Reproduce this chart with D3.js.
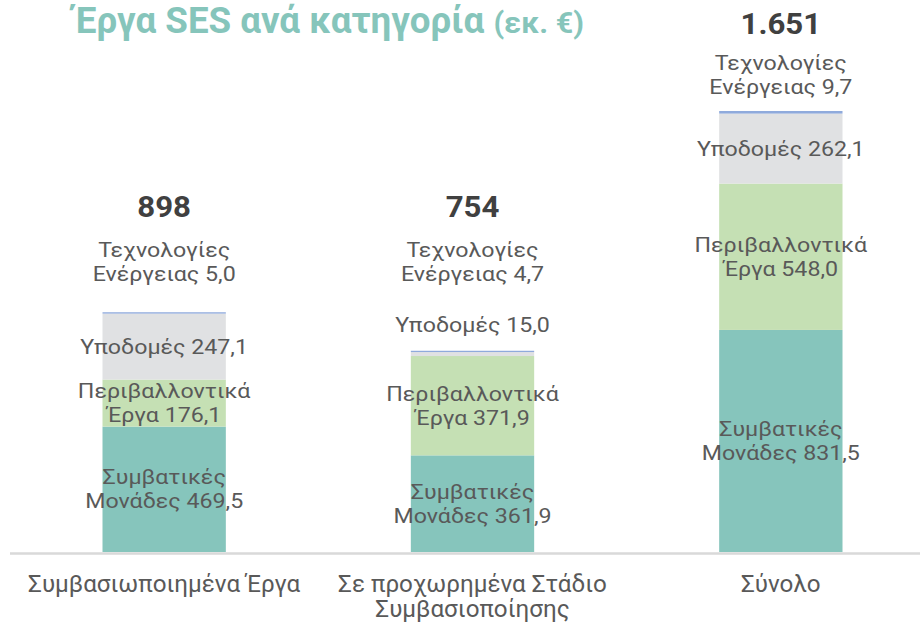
<!DOCTYPE html>
<html>
<head>
<meta charset="utf-8">
<script src="https://cdn.jsdelivr.net/npm/d3@7"></script>
<style>
  html, body { margin: 0; padding: 0; background: #ffffff; }
  svg { display: block; font-family: Roboto, "Noto Sans", sans-serif; }
</style>
</head>
<body>
<svg id="chart" width="920" height="624"></svg>
<script>
// Categories (x axis), each split into the lines shown under the axis
const categories = ["Συμβασιωποιημένα Έργα", "Σε προχωρημένα Στάδιο Συμβασιοποίησης", "Σύνολο"];
const categoryLines = [["Συμβασιωποιημένα Έργα"], ["Σε προχωρημένα Στάδιο", "Συμβασιοποίησης"], ["Σύνολο"]];

// Stacked series, bottom to top (εκ. €)
const conventional   = [469.5, 361.9, 831.5];   // Συμβατικές Μονάδες
const environmental  = [176.1, 371.9, 548.0];   // Περιβαλλοντικά Έργα
const infrastructure = [247.1, 15.0, 262.1];    // Υποδομές
const energyTech     = [5.0, 4.7, 9.7];         // Τεχνολογίες Ενέργειας

const seriesNames = [
  ["Συμβατικές", "Μονάδες"],
  ["Περιβαλλοντικά", "Έργα"],
  ["Υποδομές"],
  ["Τεχνολογίες", "Ενέργειας"]
];
const seriesColors = ["#86c5bc", "#c5e0b4", "#e0e1e3", "#8faadc"];

const titleMain = "Έργα SES ανά κατηγορία";
const titleUnit = "(εκ. €)";

// Greek number formatting: "." thousands, "," decimals
const locale = d3.formatLocale({ decimal: ",", thousands: ".", grouping: [3], currency: ["", " €"] });
const fmtValue = locale.format(".1f");
const fmtTotal = locale.format(",.0f");

const svg = d3.select("#chart");
const W = 920;

const seriesValues = [conventional, environmental, infrastructure, energyTech];
const rows = categories.map((c, i) => {
  const r = { category: c };
  seriesValues.forEach((vals, k) => r["s" + k] = vals[i]);
  return r;
});
const keys = ["s0", "s1", "s2", "s3"];
const stacked = d3.stack().keys(keys)(rows);
const totals = rows.map(r => d3.sum(keys, k => r[k]));

const x = d3.scaleBand().domain(categories).range([10, 935]).paddingInner(0.6).paddingOuter(0.3);
const y = d3.scaleLinear().domain([0, d3.max(totals)]).range([552, 111]);

// Bars
const layer = svg.append("g");
stacked.forEach((s, k) => {
  layer.selectAll(null).data(s).enter().append("rect")
    .attr("x", d => x(d.data.category))
    .attr("width", x.bandwidth())
    .attr("y", d => y(d[1]))
    .attr("height", d => Math.max(0, y(d[0]) - y(d[1])))
    .attr("fill", seriesColors[k]);
});

// Baseline
svg.append("line")
  .attr("x1", 10).attr("x2", W)
  .attr("y1", y(0) + 1.5).attr("y2", y(0) + 1.5)
  .attr("stroke", "#d9d9d9").attr("stroke-width", 2.5);

const labelColor = "#595959";
const labelSize = 20;
const labelStretch = 1.16;
const lineGap = 24;

// Multi-line centred label; text is widened horizontally around its centre
function drawLines(cx, cy, lines, opts = {}) {
  const n = lines.length;
  const sx = opts.stretch || labelStretch;
  const g = svg.append("g").attr("transform", `translate(${cx},0) scale(${sx},1)`);
  const t = g.append("text")
    .attr("text-anchor", "middle")
    .attr("fill", opts.fill || labelColor)
    .attr("font-size", opts.size || labelSize)
    .attr("font-weight", opts.weight || 400);
  lines.forEach((ln, i) => {
    t.append("tspan")
      .attr("x", 0)
      .attr("y", cy + (i - (n - 1) / 2) * lineGap)
      .attr("dominant-baseline", "central")
      .text(ln);
  });
  return t;
}

function labelLines(k, v) {
  const name = seriesNames[k].slice();
  name[name.length - 1] = name[name.length - 1] + " " + fmtValue(v);
  return name;
}

// Segment labels inside the bars (segments tall enough to hold them)
const minInside = 30;
categories.forEach((c, i) => {
  const cx = x(c) + x.bandwidth() / 2;
  stacked.forEach((s, k) => {
    const d = s[i];
    const h = y(d[0]) - y(d[1]);
    if (h >= minInside) {
      drawLines(cx, (y(d[0]) + y(d[1])) / 2, labelLines(k, d.data["s" + k]));
    }
  });
});

// Labels above the bars: small segments stacked upward, then the total
const totalIndex = categories.length - 1;
const partsTop = d3.min(categories.slice(0, totalIndex), (c, i) => y(totals[i]));
categories.forEach((c, i) => {
  const cx = x(c) + x.bandwidth() / 2;
  const isTotal = i === totalIndex;
  const anchor = isTotal ? y(totals[i]) : partsTop;
  const small = [];
  stacked.forEach((s, k) => {
    const d = s[i];
    if (y(d[0]) - y(d[1]) < minInside) small.push(k);
  });
  // infrastructure label sitting just above its own bar
  let cursor = y(totals[i]);
  small.filter(k => k !== 3).forEach(k => {
    drawLines(cx, cursor - 26, labelLines(k, seriesValues[k][i]));
    cursor -= 26 + lineGap;
  });
  const techGap = isTotal ? 24 : 38;
  const techCenter = anchor - techGap - lineGap / 2;
  drawLines(cx, techCenter, labelLines(3, seriesValues[3][i]));
  const totalGap = isTotal ? 39 : 44;
  drawLines(cx, techCenter - lineGap / 2 - totalGap, [fmtTotal(Math.round(totals[i]))],
    { size: 30, weight: 700, fill: "#404040", stretch: 1.04 });
});

// Category labels under the axis
const axisSize = 23.5;
const axisStretch = 1.03;
categoryLines.forEach((lines, i) => {
  const cx = x(categories[i]) + x.bandwidth() / 2;
  const g = svg.append("g").attr("transform", `translate(${cx},0) scale(${axisStretch},1)`);
  lines.forEach((ln, j) => {
    g.append("text")
      .attr("x", 0)
      .attr("y", 592 + j * 25)
      .attr("text-anchor", "middle")
      .attr("fill", labelColor)
      .attr("font-size", axisSize)
      .text(ln);
  });
});

// Title
const titleColor = "#86c5bb";
const tg = svg.append("g").attr("transform", "translate(74,0) scale(1.02,1)");
const tMain = tg.append("text")
  .attr("x", 0).attr("y", 33)
  .attr("fill", titleColor)
  .attr("font-size", 36)
  .attr("font-weight", 700)
  .text(titleMain);
const mainW = tMain.node().getComputedTextLength();
tg.append("text")
  .attr("x", mainW + 9).attr("y", 33)
  .attr("fill", titleColor)
  .attr("font-size", 30)
  .attr("font-weight", 700)
  .text(titleUnit);
</script>
</body>
</html>
